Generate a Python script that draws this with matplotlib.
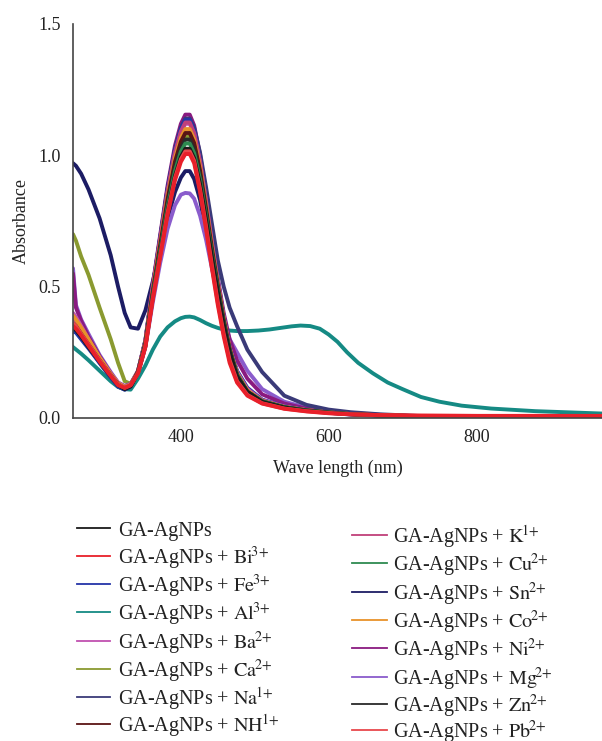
import matplotlib
matplotlib.use("Agg")
import matplotlib.pyplot as plt
from matplotlib.lines import Line2D

plt.rcParams["font.family"] = ["Liberation Serif", "DejaVu Serif"]
plt.rcParams["mathtext.fontset"] = "stix"

# ── data (absorbance vs wavelength, nm) ───────────────────────────────────────
wavelength = [254, 258, 265, 275, 290, 305, 315, 324, 332, 342, 352, 362, 372, 382, 392, 400,
              406, 412, 418, 426, 434, 442, 450, 458, 466, 476, 490, 510, 540, 570, 600, 630,
              670, 720, 800, 880, 970]

ga = [.34, .335, .31, .27, .215, .16, .125, .11, .12, .172, .274, .459, .624, .788, .922, .994,
      1.025, 1.025, .989, .891, .758, .614, .480, .357, .254, .16, .10, .062, .04, .028, .02, .014,
      .01, .007, .005, .004, .003]
bi = [.35, .34, .315, .275, .215, .16, .125, .115, .125, .170, .271, .452, .613, .774, .905, .975,
      1.005, 1.005, .970, .86, .72, .57, .43, .31, .21, .135, .085, .055, .035, .025, .018, .014,
      .011, .009, .008, .008, .008]
fe = [.33, .325, .30, .265, .21, .155, .12, .108, .12, .178, .294, .501, .686, .870, 1.020, 1.101,
      1.135, 1.135, 1.095, .985, .836, .674, .524, .386, .271, .18, .115, .07, .045, .03, .02, .013,
      .008, .005, .003, .002, .002]
ba = [.40, .385, .35, .30, .23, .17, .135, .12, .128, .177, .291, .496, .677, .859, 1.007, 1.086,
      1.12, 1.12, 1.081, .973, .825, .666, .518, .382, .268, .175, .11, .068, .044, .03, .021, .015,
      .01, .006, .004, .003, .003]
ca = [.70, .675, .615, .545, .42, .30, .21, .14, .13, .174, .282, .476, .649, .822, .962, 1.038,
      1.07, 1.07, 1.032, .930, .789, .638, .498, .369, .261, .17, .105, .065, .042, .03, .022, .016,
      .011, .007, .005, .004, .003]
na = [.34, .33, .305, .27, .21, .155, .12, .108, .12, .179, .295, .503, .688, .874, 1.024, 1.105,
      1.14, 1.14, 1.105, 1.01, .88, .74, .60, .50, .42, .35, .26, .175, .085, .05, .032, .022,
      .014, .008, .005, .003, .002]
nh = [.36, .35, .32, .28, .22, .163, .128, .113, .123, .175, .285, .482, .658, .833, .975, 1.052,
      1.085, 1.085, 1.047, .942, .800, .647, .504, .373, .263, .165, .10, .063, .041, .029, .021, .015,
      .01, .007, .005, .004, .003]
k = [.38, .37, .34, .295, .225, .168, .13, .117, .126, .178, .292, .497, .680, .862, 1.011, 1.091,
     1.125, 1.125, 1.085, .976, .828, .668, .520, .383, .269, .17, .105, .066, .043, .03, .021, .015,
     .01, .006, .004, .003, .003]
cu = [.35, .34, .315, .275, .218, .162, .127, .113, .123, .173, .278, .467, .635, .803, .940, 1.014,
      1.045, 1.045, 1.008, .908, .772, .625, .488, .362, .257, .165, .10, .064, .041, .029, .021, .015,
      .01, .007, .005, .004, .003]
sn = [.97, .96, .93, .87, .76, .62, .50, .40, .345, .34, .41, .52, .64, .76, .86, .915,
      .94, .94, .91, .83, .71, .58, .46, .35, .26, .175, .11, .068, .043, .03, .021, .015,
      .01, .007, .005, .004, .003]
co = [.39, .375, .345, .30, .23, .168, .132, .118, .127, .176, .288, .488, .666, .844, .989, 1.067,
      1.10, 1.10, 1.061, .955, .811, .655, .510, .377, .265, .17, .105, .065, .042, .03, .021, .015,
      .01, .007, .006, .005, .005]
ni = [.55, .42, .37, .31, .235, .17, .133, .12, .13, .180, .297, .509, .697, .885, 1.037, 1.120,
      1.155, 1.155, 1.114, 1.002, .849, .685, .532, .40, .30, .22, .15, .09, .055, .036, .025, .017,
      .011, .007, .004, .003, .003]
mg = [.57, .43, .375, .32, .24, .175, .135, .122, .13, .17, .27, .44, .59, .72, .81, .85,
      .857, .855, .835, .77, .68, .57, .47, .37, .30, .25, .18, .11, .062, .04, .028, .019,
      .012, .007, .004, .003, .003]
zn = [.345, .34, .315, .275, .217, .162, .127, .112, .122, .174, .281, .473, .644, .815, .953, 1.028,
      1.06, 1.06, 1.023, .921, .783, .633, .494, .366, .259, .165, .10, .063, .041, .029, .021, .015,
      .01, .007, .005, .004, .003]
pb = [.36, .35, .32, .28, .22, .163, .128, .115, .125, .171, .273, .456, .618, .781, .913, .985,
      1.015, 1.015, .979, .87, .73, .58, .44, .32, .22, .14, .088, .056, .036, .026, .019, .014,
      .011, .009, .008, .008, .008]

# Al3+ has its own broad band near 560 nm, so it gets a finer wavelength list
al_wavelength = [254, 265, 275, 290, 305, 315, 324, 332, 342, 352, 362, 372, 382, 392, 400, 406,
                 412, 418, 426, 434, 442, 450, 458, 466, 476, 490, 505, 520, 535, 550, 562, 575,
                 588, 600, 612, 625, 640, 660, 680, 700, 725, 750, 780, 820, 880, 970]
al = [.27, .245, .22, .18, .14, .118, .11, .108, .15, .20, .26, .31, .345, .368, .38, .385,
      .386, .383, .373, .361, .351, .343, .337, .333, .331, .331, .333, .337, .343, .349, .352, .350,
      .340, .318, .29, .25, .21, .17, .135, .11, .08, .062, .047, .036, .026, .017]

ions_left = ["", "Bi", "Fe", "Al", "Ba", "Ca", "Na", "NH"]
charges_left = ["", "3", "3", "3", "2", "2", "1", "1"]
ions_right = ["K", "Cu", "Sn", "Co", "Ni", "Mg", "Zn", "Pb"]
charges_right = ["1", "2", "2", "2", "2", "2", "2", "2"]
colors_left = ["#1a1a1a", "#e8202a", "#2434a8", "#158a84", "#c050b0", "#8a9a30", "#3a3a78", "#5a1414"]
colors_right = ["#c0407a", "#2e8a50", "#1c1c64", "#e8922a", "#8a1a80", "#8a5ccc", "#2a2a2a", "#e8484c"]


def label(ion, charge):
    if not ion:
        return "GA-AgNPs"
    return r"GA-AgNPs + $\mathrm{%s}^{\!%s{+}}$" % (ion, charge)


# ── chart ─────────────────────────────────────────────────────────────────────
W, H = 602, 741
fig = plt.figure(figsize=(W / 100, H / 100), dpi=100)
ax = fig.add_axes([73 / W, 1 - 418 / H, 1 - 73 / W, 394 / H])

# back curves first, reds end up on top like in the reference
ax.plot(al_wavelength, al, color=colors_left[3], lw=2.8)
curves = [(sn, colors_right[2]), (ca, colors_left[5]), (mg, colors_right[5]), (ni, colors_right[4]),
          (na, colors_left[6]), (fe, colors_left[2]), (ba, colors_left[4]), (k, colors_right[0]),
          (co, colors_right[3]), (nh, colors_left[7]), (zn, colors_right[6]), (cu, colors_right[1]),
          (ga, colors_left[0]), (pb, colors_right[7]), (bi, colors_left[1])]
for vals, c in curves:
    ax.plot(wavelength, vals, color=c, lw=2.8, solid_joinstyle="round", solid_capstyle="round")

ax.set_xlim(254, 970)
ax.set_ylim(0, 1.5)
ax.set_xticks([400, 600, 800])
ax.set_yticks([0.0, 0.5, 1.0, 1.5])
ax.set_yticklabels(["0.0", "0.5", "1.0", "1.5"])
ax.tick_params(length=0, labelsize=13, colors="#222222")
ax.tick_params(axis="y", pad=9)
ax.tick_params(axis="x", pad=8)
for s in ("top", "right"):
    ax.spines[s].set_visible(False)
for s in ("left", "bottom"):
    ax.spines[s].set_color("#444444")
    ax.spines[s].set_linewidth(1.2)
ax.set_xlabel("Wave length (nm)", fontsize=13, color="#222222", labelpad=10)
ax.set_ylabel("Absorbance", fontsize=13, color="#222222")
ax.yaxis.set_label_coords(-0.081, 0.50)


# legend drawn by hand: two columns, thin line swatches, no frame
def legend_column(ions, charges, colors, x_line, x_text, rows):
    for ion, ch, c, yy in zip(ions, charges, colors, rows):
        fig.add_artist(Line2D([x_line[0] / W, x_line[1] / W], [1 - yy / H, 1 - yy / H],
                              color=c, lw=1.3, transform=fig.transFigure))
        fig.text(x_text / W, 1 - (yy + 8) / H, label(ion, ch), fontsize=14.5, color="#222222",
                 ha="left", va="baseline")


legend_column(ions_left, charges_left, colors_left, (77, 110), 118,
              [528, 556, 584, 612, 641, 669, 697, 724])
legend_column(ions_right, charges_right, colors_right, (352, 387), 393,
              [535, 563, 592, 620, 648, 677, 704, 730])

fig.savefig("out.png", dpi=100)
